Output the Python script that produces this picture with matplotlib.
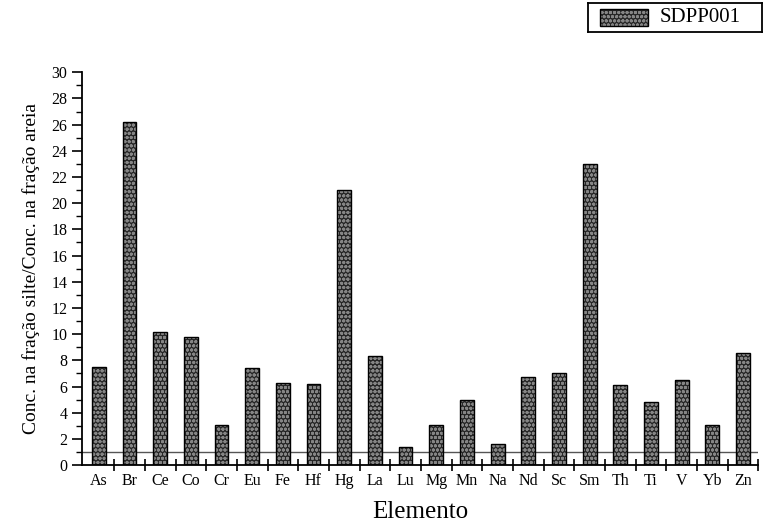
import matplotlib
matplotlib.use("Agg")
import matplotlib.pyplot as plt
import numpy as np
from matplotlib.patches import Rectangle

elementos = ["As", "Br", "Ce", "Co", "Cr", "Eu", "Fe", "Hf", "Hg", "La", "Lu",
             "Mg", "Mn", "Na", "Nd", "Sc", "Sm", "Th", "Ti", "V", "Yb", "Zn"]
razao = [7.5, 26.2, 10.2, 9.8, 3.1, 7.4, 6.3, 6.2, 21.0, 8.3, 1.4,
         3.1, 5.0, 1.6, 6.7, 7.0, 23.0, 6.1, 4.8, 6.5, 3.1, 8.6]
linha_ref = 1.0
serie = "SDPP001"

plt.rcParams['font.family'] = ['Liberation Serif', 'DejaVu Serif']

fig = plt.figure(figsize=(7.66, 5.31), dpi=100)
ax = fig.add_axes([0.107, 0.124, 0.883, 0.740])

x = np.arange(len(elementos))
ax.bar(x, razao, width=0.45, color='#262626', edgecolor='#858585',
       hatch='oooo', linewidth=0)
ax.bar(x, razao, width=0.45, fill=False, edgecolor='black', linewidth=1.0,
       label=serie)
ax.axhline(linha_ref, color='#555555', linewidth=1.0, zorder=0.5)

ax.set_xlim(-0.55, len(elementos) - 0.5)
ax.set_ylim(0, 30)
ax.set_yticks(np.arange(0, 31, 2))
ax.set_yticks(np.arange(0, 31, 1), minor=True)
ax.set_xticks(x + 0.5)
ax.set_xticklabels([])
ax.set_xticks(x, minor=True)
ax.set_xticklabels(elementos, minor=True)
ax.tick_params(axis='x', which='major', direction='inout', length=9, width=1.2)
ax.tick_params(axis='x', which='minor', length=0, labelsize=11.5, pad=6)
ax.tick_params(axis='y', which='major', direction='out', length=7, width=1.2,
               labelsize=11.5)
ax.tick_params(axis='y', which='minor', direction='out', length=4, width=1.0)

for s in ['top', 'right']:
    ax.spines[s].set_visible(False)
for s in ['left', 'bottom']:
    ax.spines[s].set_linewidth(1.3)

ax.set_ylabel("Conc. na fração silte/Conc. na fração areia", fontsize=14,
              labelpad=8)
ax.set_xlabel("Elemento", fontsize=18, labelpad=8)

# legenda
leg_ax = fig.add_axes([588 / 766, 1 - 32 / 531, 174 / 766, 29 / 531])
leg_ax.set_xlim(0, 174)
leg_ax.set_ylim(0, 29)
leg_ax.set_xticks([])
leg_ax.set_yticks([])
for s in leg_ax.spines.values():
    s.set_linewidth(1.3)
leg_ax.add_patch(Rectangle((12, 6), 48, 17, facecolor='#262626',
                           edgecolor='#858585', hatch='oooo', linewidth=0))
leg_ax.add_patch(Rectangle((12, 6), 48, 17, fill=False, edgecolor='black',
                           linewidth=1.0))
leg_ax.text(72, 14.5, serie, fontsize=15, va='center', ha='left')

fig.savefig("out.png", dpi=100)
